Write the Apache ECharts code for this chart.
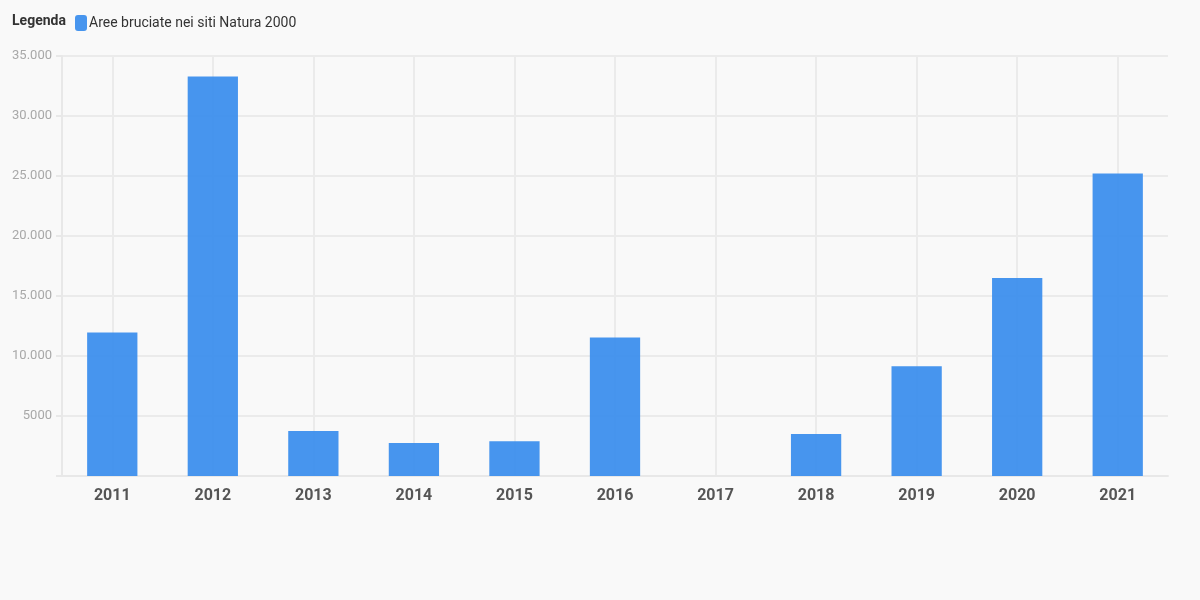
<!DOCTYPE html>
<html>
<head>
<meta charset="utf-8">
<script src="https://cdn.jsdelivr.net/npm/echarts@6/dist/echarts.min.js"></script>
<style>
  html, body { margin: 0; padding: 0; background: #f9f9f9; }
  #chart { width: 1200px; height: 600px; }
</style>
</head>
<body>
<div id="chart"></div>
<script>
  var years = ['2011', '2012', '2013', '2014', '2015', '2016', '2017', '2018', '2019', '2020', '2021'];
  var burnedAreas = [11950, 33300, 3750, 2750, 2900, 11550, 0, 3500, 9150, 16500, 25200];
  var seriesName = 'Aree bruciate nei siti Natura 2000';

  // formato italiano: 5000, 10.000, 35.000
  function fmt(v) {
    if (v === 0) return '';
    if (v < 10000) return String(v);
    return String(v).replace(/\B(?=(\d{3})+(?!\d))/g, '.');
  }

  // asse nascosto a mezzo passo, solo per le linee verticali al centro delle barre
  var halfSteps = [];
  for (var i = 0; i <= years.length * 2; i++) halfSteps.push(String(i));

  var chart = echarts.init(document.getElementById('chart'));
  chart.setOption({
    backgroundColor: '#f9f9f9',
    textStyle: { fontFamily: 'Roboto' },
    graphic: [{
      type: 'text',
      left: 12,
      top: 14,
      style: { text: 'Legenda', font: 'bold 14px Roboto', fill: '#333' }
    }],
    legend: {
      left: 70,
      top: 10,
      itemWidth: 12,
      itemHeight: 16,
      itemGap: 10,
      icon: 'roundRect',
      textStyle: { fontSize: 14, color: '#333', padding: [0, 0, 0, -3] },
      data: [seriesName]
    },
    grid: { left: 62, right: 32, top: 56, bottom: 124 },
    xAxis: [{
      type: 'category',
      data: years,
      boundaryGap: true,
      axisLine: { lineStyle: { color: '#e8e8e8', width: 2 } },
      axisTick: { alignWithLabel: true, length: 5, lineStyle: { color: '#e8e8e8', width: 2 } },
      axisLabel: { fontSize: 16, fontWeight: 'bold', color: '#555', margin: 12 },
      splitLine: { show: false }
    }, {
      type: 'category',
      data: halfSteps,
      boundaryGap: false,
      position: 'bottom',
      axisLine: { show: false },
      axisTick: { show: false },
      axisLabel: { show: false },
      splitLine: {
        show: true,
        interval: function (idx) { return idx % 2 === 1; },
        lineStyle: { color: '#ebebeb', width: 2 }
      }
    }],
    yAxis: {
      type: 'value',
      min: 0,
      max: 35000,
      interval: 5000,
      axisLine: { show: true, lineStyle: { color: '#e8e8e8', width: 2 } },
      axisTick: { show: true, length: 6, lineStyle: { color: '#e8e8e8', width: 2 } },
      axisLabel: { fontSize: 13, color: '#a8a8a8', margin: 10, formatter: fmt },
      splitLine: { lineStyle: { color: '#ebebeb', width: 2 } }
    },
    series: [{
      name: seriesName,
      type: 'bar',
      xAxisIndex: 0,
      barWidth: '50%',
      itemStyle: { color: 'rgb(61,143,237)', opacity: 0.95 },
      data: burnedAreas
    }]
  });
</script>
</body>
</html>
